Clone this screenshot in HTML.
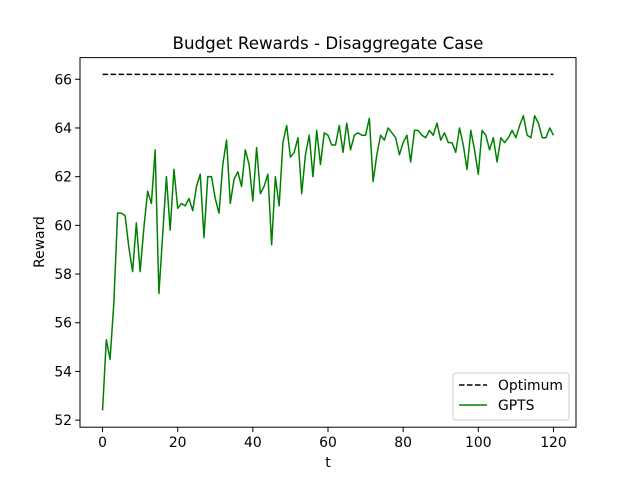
<!DOCTYPE html>
<html><head><meta charset="utf-8"><style>
body{margin:0;background:#fff}
svg text{font-family:"DejaVu Sans","Liberation Sans",sans-serif;fill:#000}
</style></head><body>
<svg id="chart" width="640" height="480" xmlns="http://www.w3.org/2000/svg">
<rect width="640" height="480" fill="#fff"/>
<text x="328" y="49" font-size="16.7" text-anchor="middle">Budget Rewards - Disaggregate Case</text>
<g id="plot"></g>
<rect x="80" y="57.6" width="496" height="369.6" fill="none" stroke="#000" stroke-width="1"/>
<g id="xt"></g><g id="yt"></g>
<text x="328" y="467" font-size="13.9" text-anchor="middle">t</text>
<text x="44" y="242" font-size="13.9" text-anchor="middle" transform="rotate(-90 44 242)">Reward</text>
<g>
<rect x="453" y="373" width="116" height="47" rx="3" fill="#fff" stroke="#ccc" fill-opacity="0.8"/>
<line x1="459" y1="385" x2="487" y2="385" stroke="#000" stroke-width="1.5" stroke-dasharray="5.5,2.5"/>
<text x="498" y="390" font-size="13.9">Optimum</text>
<line x1="459" y1="405" x2="487" y2="405" stroke="#008000" stroke-width="1.5"/>
<text x="498" y="410" font-size="13.9">GPTS</text>
</g>
</svg>
<script>
const gpts=[52.4,55.3,54.5,56.8,60.5,60.5,60.4,59.1,58.1,60.1,58.1,59.9,61.4,60.9,63.1,57.2,59.6,62.0,59.8,62.3,60.7,60.9,60.8,61.1,60.6,61.6,62.1,59.5,62.0,62.0,61.1,60.5,62.5,63.5,60.9,61.9,62.2,61.6,63.1,62.5,61.0,63.2,61.3,61.6,62.1,59.2,62.0,60.8,63.4,64.1,62.8,63.0,63.6,61.3,62.9,63.7,62.0,63.9,62.5,63.8,63.7,63.3,63.3,64.1,63.0,64.2,63.1,63.7,63.8,63.7,63.7,64.4,61.8,62.9,63.7,63.5,64.0,63.8,63.6,62.9,63.4,63.7,62.6,63.9,63.9,63.7,63.6,63.9,63.7,64.2,63.5,63.8,63.4,63.4,63.0,64.0,63.3,62.3,63.9,63.1,62.1,63.9,63.7,63.1,63.6,62.6,63.6,63.4,63.6,63.9,63.6,64.1,64.5,63.7,63.6,64.5,64.2,63.6,63.6,64.0,63.7];
const optimum=66.2;
const xTicks=[0,20,40,60,80,100,120];
const yTicks=[52,54,56,58,60,62,64,66];
const X0=80,X1=576,Y0=57.6,Y1=427.2;
const n=gpts.length;
const xmin=-0.05*(n-1),xmax=(n-1)*1.05;
const lo=Math.min(...gpts,optimum),hi=Math.max(...gpts,optimum);
const ymin=lo-0.05*(hi-lo),ymax=hi+0.05*(hi-lo);
const sx=v=>X0+(v-xmin)/(xmax-xmin)*(X1-X0);
const sy=v=>Y1-(v-ymin)/(ymax-ymin)*(Y1-Y0);
const NS="http://www.w3.org/2000/svg";
const plot=document.getElementById('plot');
const opt=document.createElementNS(NS,'line');
opt.setAttribute('x1',sx(0));opt.setAttribute('x2',sx(n-1));
opt.setAttribute('y1',sy(optimum));opt.setAttribute('y2',sy(optimum));
opt.setAttribute('stroke','#000');opt.setAttribute('stroke-width','1.5');opt.setAttribute('stroke-dasharray','5.5,2.5');


plot.appendChild(opt);
const pl=document.createElementNS(NS,'polyline');
pl.setAttribute('points',gpts.map((v,i)=>sx(i)+','+sy(v)).join(' '));
pl.setAttribute('fill','none');pl.setAttribute('stroke','#008000');pl.setAttribute('stroke-width','1.5');pl.setAttribute('stroke-linejoin','round');


plot.appendChild(pl);
const xt=document.getElementById('xt');
xTicks.forEach(t=>{
 const l=document.createElementNS(NS,'line');
 l.setAttribute('x1',sx(t));l.setAttribute('x2',sx(t));l.setAttribute('y1',Y1);l.setAttribute('y2',Y1+4.9);l.setAttribute('stroke','#000');
 
 
 xt.appendChild(l);
 const tx=document.createElementNS(NS,'text');
 tx.setAttribute('x',sx(t));tx.setAttribute('y',Y1+20);tx.setAttribute('font-size','13.9');tx.setAttribute('text-anchor','middle');
 tx.textContent=t;
 
 
 xt.appendChild(tx);
});
const yt=document.getElementById('yt');
yTicks.forEach(t=>{
 const l=document.createElementNS(NS,'line');
 l.setAttribute('x1',X0-4.9);l.setAttribute('x2',X0);l.setAttribute('y1',sy(t));l.setAttribute('y2',sy(t));l.setAttribute('stroke','#000');
 
 
 yt.appendChild(l);
 const tx=document.createElementNS(NS,'text');
 tx.setAttribute('x',X0-8);tx.setAttribute('y',sy(t)+5);tx.setAttribute('font-size','13.9');tx.setAttribute('text-anchor','end');
 tx.textContent=t;
 
 
 yt.appendChild(tx);
});
</script>
</body></html>
